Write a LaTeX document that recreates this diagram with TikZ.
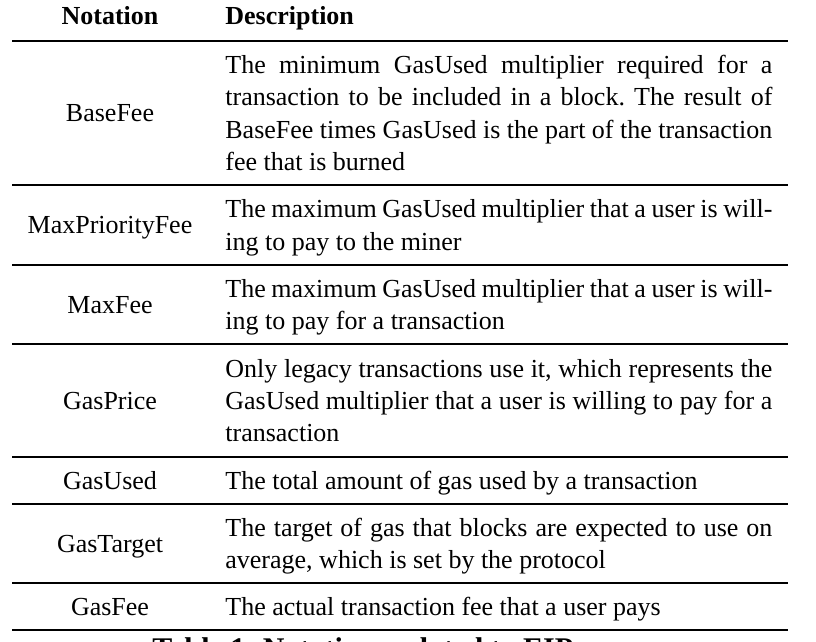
\documentclass[tikz,border=0pt]{standalone}
\usepackage{fontspec}
\setmainfont{Liberation Serif}
\usepackage{tikz}
\usetikzlibrary{positioning}
\frenchspacing
\tikzset{
  notecell/.style={inner sep=0pt, anchor=center, font=\fontsize{13}{16.15}\selectfont},
  desccell/.style={inner sep=0pt, anchor=west, text width=273.5pt, align=justify, font=\fontsize{13}{16.15}\selectfont},
  headcell/.style={inner sep=0pt, font=\fontsize{13}{16.15}\selectfont\bfseries},
  captext/.style={inner sep=0pt, anchor=base west, font=\fontsize{15}{18}\selectfont\bfseries},
  thickrule/.style={line width=1.4pt},
  thinrule/.style={line width=0.8pt}
}

\begin{document}
\spaceskip=3.25pt plus 5pt minus 1.6pt
\hyphenpenalty=10000
\tolerance=10000
\begin{tikzpicture}[x=0.5pt, y=-0.5pt]
  \useasboundingbox (0,0) rectangle (816,642);

  % header
  \node[headcell, anchor=base] (hdnote) at (110,25) {Notation};
  \node[headcell, anchor=base west] (hddesc) at (225,25) {Description};

  % rows
  \node[notecell] (n1) at (110,115.5) {\strut BaseFee\strut};
  \node[desccell] (d1) at (225,115.5) {\strut The minimum GasUsed multiplier required for a\linebreak transaction to be included in a block. The result of\linebreak BaseFee times GasUsed is the part of the transaction\linebreak fee that is burned\strut};

  \node[notecell] (n2) at (110,227.5) {\strut MaxPriorityFee\strut};
  \node[desccell] (d2) at (225,227.5) {\strut The maximum GasUsed multiplier that a user is will-\linebreak ing to pay to the miner\strut};

  \node[notecell] (n3) at (110,307) {\strut MaxFee\strut};
  \node[desccell] (d3) at (225,307) {\strut The maximum GasUsed multiplier that a user is will-\linebreak ing to pay for a transaction\strut};

  \node[notecell] (n4) at (110,403) {\strut GasPrice\strut};
  \node[desccell] (d4) at (225,403) {\strut Only legacy transactions use it, which represents the\linebreak GasUsed multiplier that a user is willing to pay for a\linebreak transaction\strut};

  \node[notecell] (n5) at (110,483) {\strut GasUsed\strut};
  \node[desccell] (d5) at (225,483) {\strut The total amount of gas used by a transaction\strut};

  \node[notecell] (n6) at (110,546) {\strut GasTarget\strut};
  \node[desccell] (d6) at (225,546) {\strut The target of gas that blocks are expected to use on\linebreak average, which is set by the protocol\strut};

  \node[notecell] (n7) at (110,609) {\strut GasFee\strut};
  \node[desccell] (d7) at (225,609) {\strut The actual transaction fee that a user pays\strut};

  % rules
  \draw[thickrule] (12,41) -- (788,41);
  \foreach \ry in {185,265,344,457,504,583}
    \draw[thinrule] (12,\ry) -- (788,\ry);
  \draw[thickrule] (12,630) -- (788,630);

  % caption (cut off at the bottom edge)
  \node[captext] (cap) at (152,659) {Table 1: Notations related to EIP};
\end{tikzpicture}
\end{document}
